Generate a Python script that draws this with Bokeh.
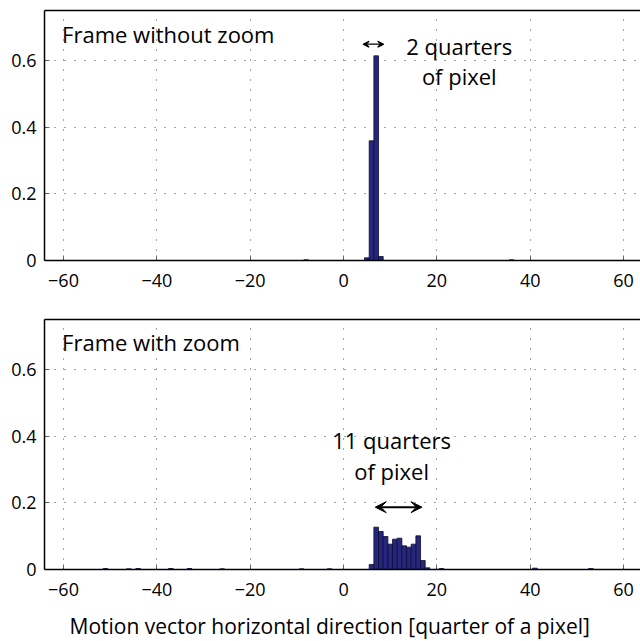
from bokeh.plotting import figure
from bokeh.layouts import column
from bokeh.models import Label, Arrow, VeeHead, LinearAxis, FixedTicker, Range1d
from bokeh.core.properties import value
from bokeh.embed import file_html
from bokeh.resources import INLINE

# ---- data ----
bins_top = [-8, 5, 6, 7, 8, 36]
freq_top = [0.002, 0.008, 0.359, 0.614, 0.012, 0.002]

bins_bot = [-51, -46, -44, -37, -33, -26, -9, -3,
            6, 7, 8, 9, 10, 11, 12, 13, 14, 15, 16, 17, 18,
            21, 41, 53]
freq_bot = [0.003, 0.002, 0.003, 0.003, 0.003, 0.002, 0.002, 0.002,
            0.015, 0.127, 0.114, 0.099, 0.076, 0.091, 0.094, 0.071, 0.067, 0.076, 0.101, 0.027, 0.005,
            0.003, 0.004, 0.003]

x_ticks = [-60, -40, -20, 0, 20, 40, 60]
x_tick_labels = ["\u221260", "\u221240", "\u221220", "0", "20", "40", "60"]
y_ticks = [0, 0.2, 0.4, 0.6]
y_tick_labels = ["0", "0.2", "0.4", "0.6"]

titles = ["Frame without zoom", "Frame with zoom"]
notes_top = ["2 quarters", "of pixel"]
notes_bot = ["11 quarters", "of pixel"]
x_label = "Motion vector horizontal direction [quarter of a pixel]"

FONT = "Open Sans"
BAR_FILL = "#26267c"
BAR_LINE = "#0c0c35"
ANN_SIZE = "22px"
TICK_SIZE = "18px"
X_RANGE = (-64.07, 63.63)


def make_fig(h, top_border, bottom_border):
    p = figure(width=640, height=h, output_backend="svg", toolbar_location=None,
               x_range=Range1d(*X_RANGE), y_range=Range1d(0, 0.75),
               min_border_left=44, min_border_right=0,
               min_border_top=top_border, min_border_bottom=bottom_border)
    p.outline_line_color = None
    p.background_fill_color = "white"
    p.border_fill_color = "white"
    for ax in (p.xaxis[0], p.yaxis[0]):
        ax.major_label_text_font = FONT
        ax.major_label_text_font_size = TICK_SIZE
        ax.major_label_text_color = "black"
        ax.axis_line_color = "black"
        ax.axis_line_width = 1.5
        ax.major_tick_in = 5
        ax.major_tick_out = 0
        ax.major_tick_line_color = "black"
        ax.major_tick_line_width = 0.6
        ax.minor_tick_line_color = None
        ax.major_label_standoff = 8
    p.xaxis[0].major_label_standoff = 13
    p.xaxis[0].ticker = FixedTicker(ticks=x_ticks)
    p.xaxis[0].major_label_overrides = {t: l for t, l in zip(x_ticks, x_tick_labels)}
    p.yaxis[0].ticker = FixedTicker(ticks=y_ticks)
    p.yaxis[0].major_label_overrides = {t: l for t, l in zip(y_ticks, y_tick_labels)}

    # top border line only (no ticks, no labels)
    top_ax = LinearAxis(ticker=FixedTicker(ticks=[]), axis_line_color="black",
                        axis_line_width=1.5, major_tick_in=0, major_tick_out=0,
                        minor_tick_line_color=None, major_label_standoff=0)
    p.add_layout(top_ax, "above")

    for g in (p.xgrid[0], p.ygrid[0]):
        g.grid_line_color = "#222222"
        g.grid_line_alpha = 0.8
        g.grid_line_width = 1
        g.grid_line_dash = "1 9"
    p.xgrid[0].ticker = FixedTicker(ticks=x_ticks)
    p.ygrid[0].ticker = FixedTicker(ticks=y_ticks)
    return p


def note(p, x, y, text, align):
    p.add_layout(Label(x=x, y=y, text=text, text_font=FONT, text_font_size=ANN_SIZE,
                       text_color="black", text_baseline="alphabetic", text_align=align))


# ---- top panel ----
p1 = make_fig(296, 10, 36)
p1.vbar(x=bins_top, top=freq_top, width=1, fill_color=BAR_FILL,
        line_color=BAR_LINE, line_width=0.8)
note(p1, -60.3, 0.680, titles[0], "left")
note(p1, 24.8, 0.644, notes_top[0], "center")
note(p1, 24.8, 0.553, notes_top[1], "center")
p1.add_layout(Arrow(x_start=4.2, y_start=0.649, x_end=8.6, y_end=0.649,
                    line_color="black", line_width=1.3,
                    start=VeeHead(size=6, line_color="black", line_width=1.2, fill_color="black"),
                    end=VeeHead(size=6, line_color="black", line_width=1.2, fill_color="black")))

# ---- bottom panel ----
p2 = make_fig(310, 23, 37)
p2.vbar(x=bins_bot, top=freq_bot, width=1, fill_color=BAR_FILL,
        line_color=BAR_LINE, line_width=0.8)
note(p2, -60.3, 0.683, titles[1], "left")
note(p2, 10.3, 0.388, notes_bot[0], "center")
note(p2, 10.3, 0.295, notes_bot[1], "center")
p2.add_layout(Arrow(x_start=6.8, y_start=0.187, x_end=16.8, y_end=0.187,
                    line_color="black", line_width=2,
                    start=VeeHead(size=11, line_color="black", line_width=1, fill_color="black"),
                    end=VeeHead(size=11, line_color="black", line_width=1, fill_color="black")))

# ---- x-axis label strip (shares the x scale of the panels) ----
p3 = figure(width=640, height=35, output_backend="svg", toolbar_location=None,
            x_range=Range1d(*X_RANGE), y_range=Range1d(0, 1),
            min_border_left=44, min_border_right=0, min_border_top=0, min_border_bottom=0)
p3.axis.visible = False
p3.grid.visible = False
p3.outline_line_color = None
p3.text(x=[-2.96], y=[0.44], text=[x_label], text_font=value(FONT), text_font_size="21px",
        text_color="black", text_align="center", text_baseline="middle")

layout = column(p1, p2, p3, spacing=0)
open("out.html", "w").write(file_html(layout, INLINE))
